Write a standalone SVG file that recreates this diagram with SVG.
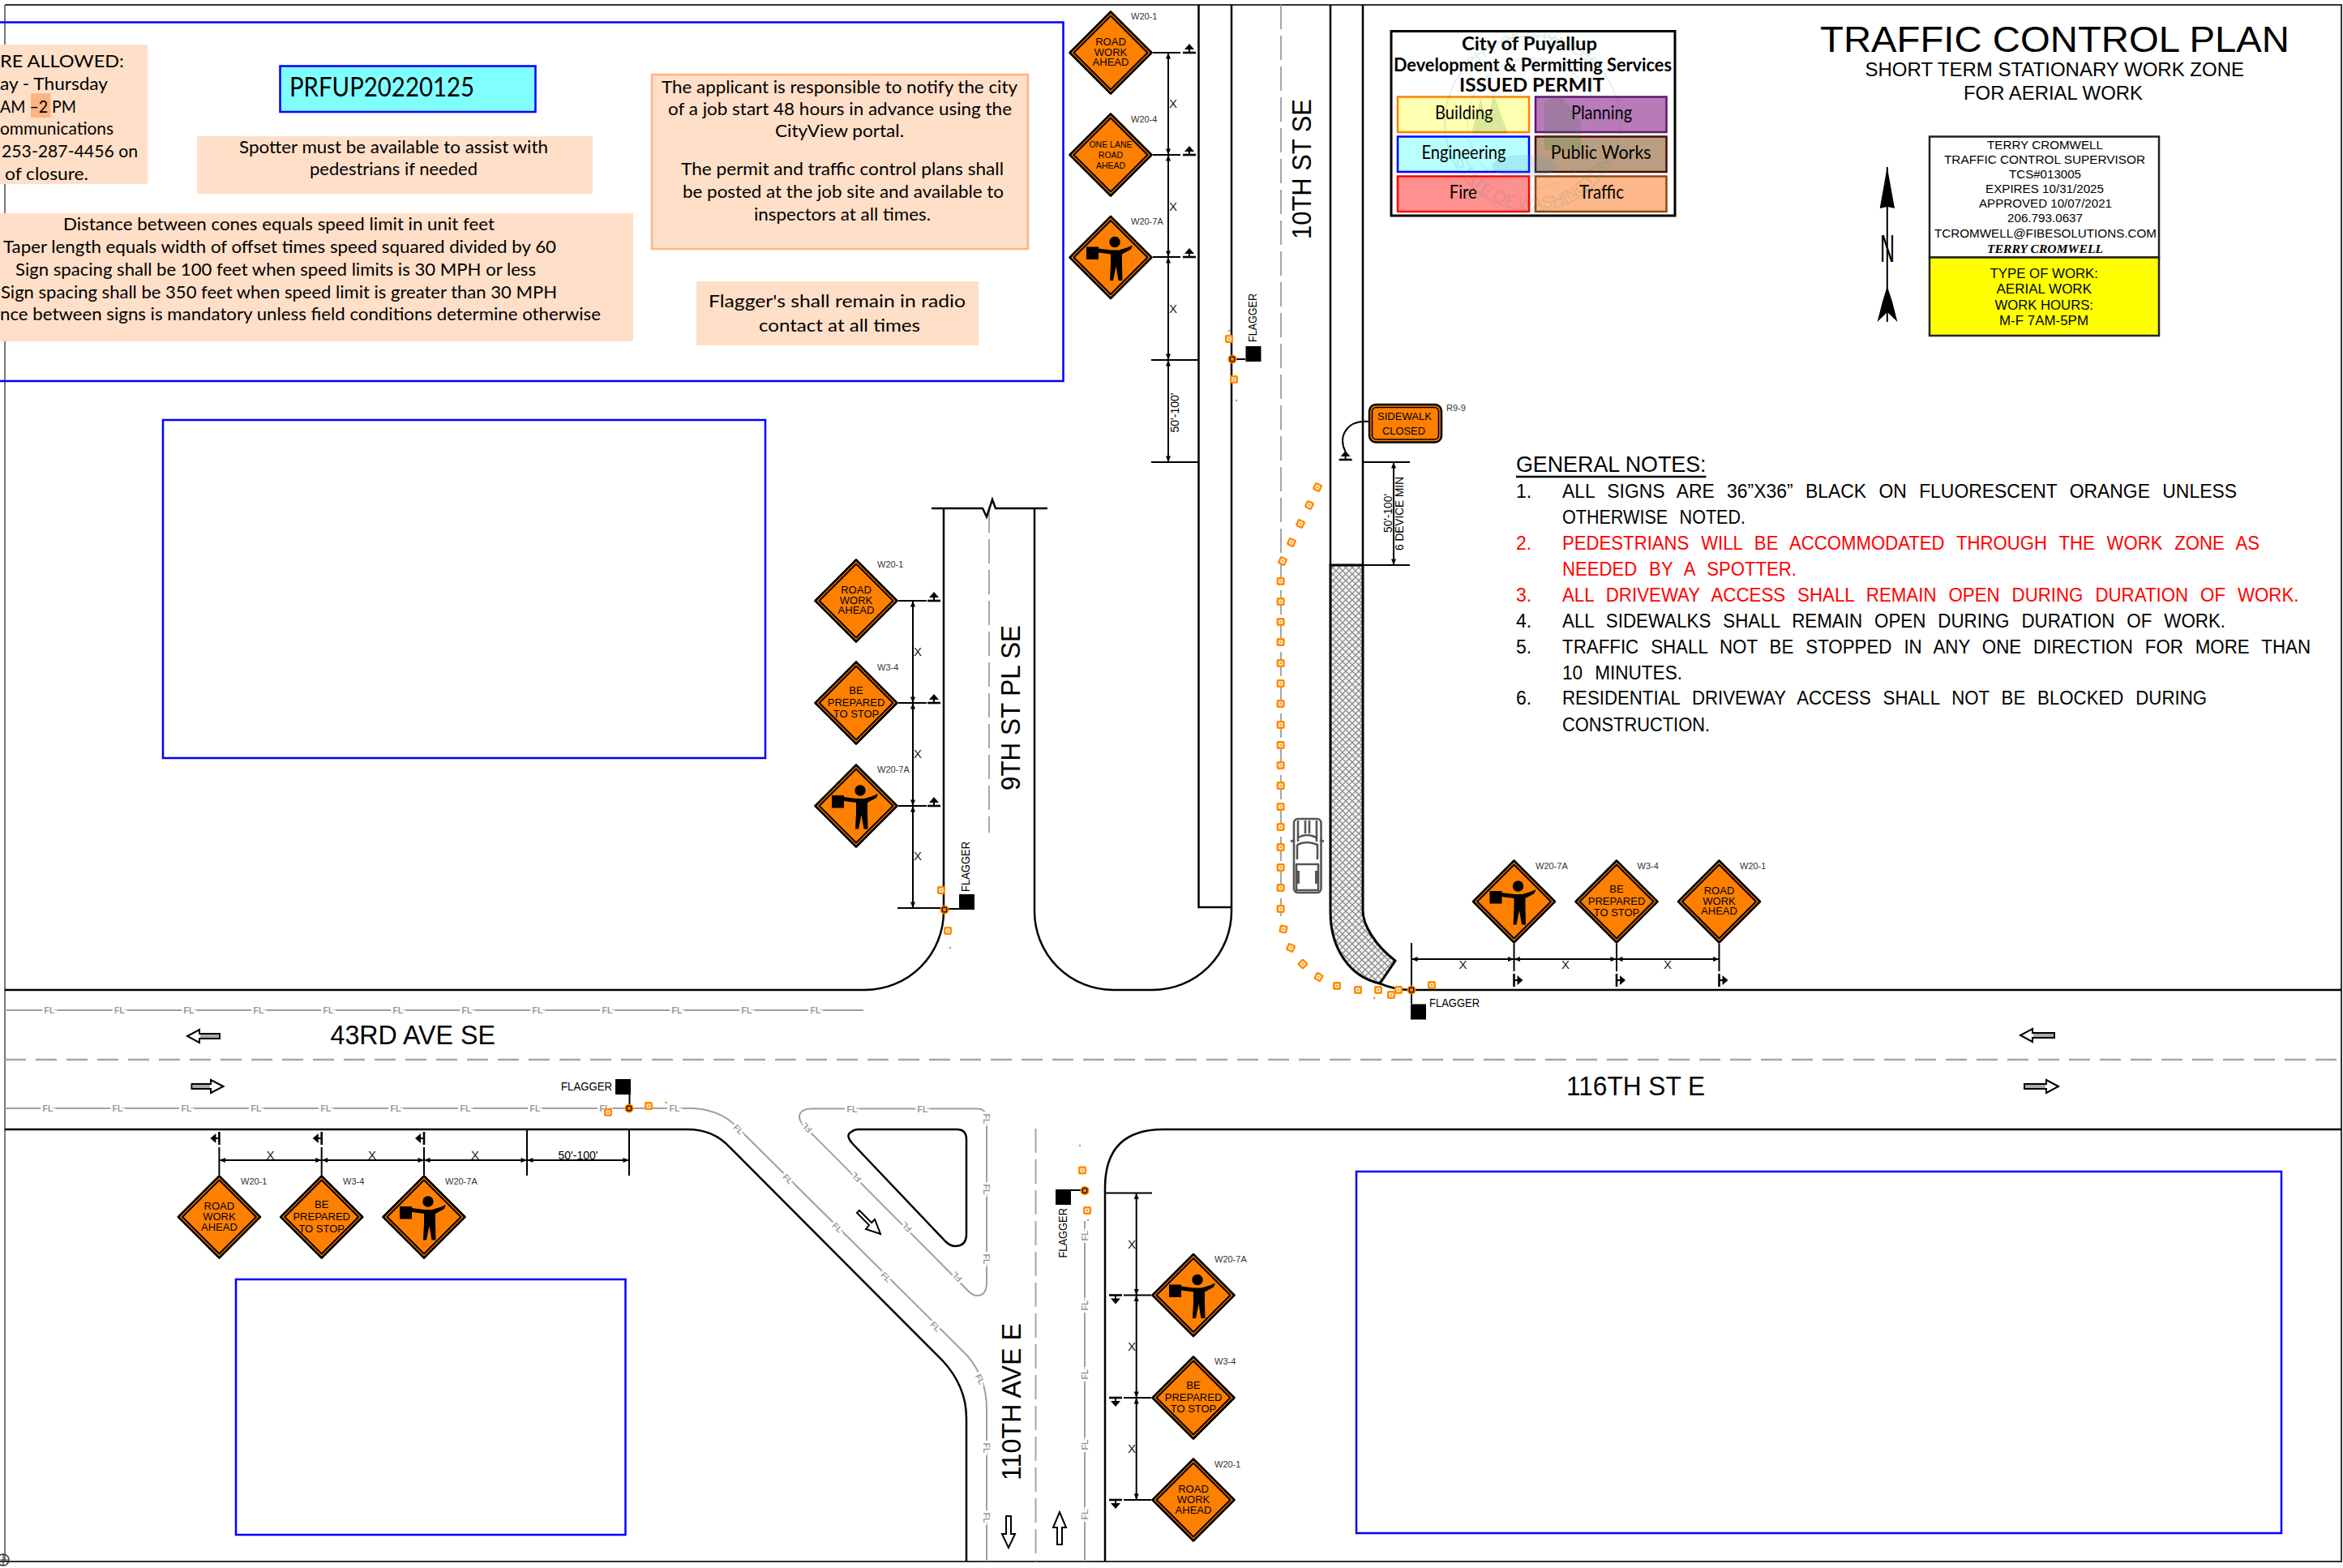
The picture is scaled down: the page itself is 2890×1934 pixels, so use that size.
<svg xmlns="http://www.w3.org/2000/svg" width="2890" height="1934" viewBox="0 0 2890 1934">
<style>
text{font-family:"Liberation Sans",Arial,sans-serif;fill:#000}
.g{font-family:Lato,"Liberation Sans",sans-serif;font-size:22px}
.peach{fill:#FFDFC8}
.curb{fill:none;stroke:#000;stroke-width:2.5}
.thin{fill:none;stroke:#000;stroke-width:2}
.flline{fill:none;stroke:#A0A0A0;stroke-width:2}
.dash{fill:none;stroke:#A6A6A6;stroke-width:2;stroke-dasharray:30 8}
.dashh{fill:none;stroke:#A6A6A6;stroke-width:2.5;stroke-dasharray:26 12}
.fl{font-size:10.5px;fill:#999;stroke:#fff;stroke-width:6;paint-order:stroke;text-anchor:middle;font-weight:bold}
.blue{fill:none;stroke:#0000FF;stroke-width:2.5}
.dim{fill:none;stroke:#000;stroke-width:2;marker-start:url(#da);marker-end:url(#da)}
.st{font-size:13px;text-anchor:middle}
.lbl{font-size:11px;fill:#333}
.x{font-size:15px;text-anchor:middle;fill:#222}
.road{font-size:33px}
.flg{font-size:15.5px}
.note{font-size:23px;word-spacing:9px}
.red{fill:#FF0000}
.lg{font-family:Lato,"Liberation Sans",sans-serif;font-size:23px}
.lgb{font-family:Lato,"Liberation Sans",sans-serif;font-weight:bold;font-size:22px}
.sv{font-size:15px}
.yl{font-size:17px}
.arr{fill:#fff;stroke:#000;stroke-width:2}
.ssh{fill:#aaa}
.tk{fill:none;stroke:#555;stroke-width:2.6}
</style>
<defs>
<marker id="da" viewBox="-9 -4 9 8" markerWidth="9" markerHeight="8" markerUnits="userSpaceOnUse" refX="0" refY="0" orient="auto-start-reverse"><path d="M0,0 L-7.5,-3 L-7.5,3 Z" fill="#000"/></marker>
<pattern id="hatch" width="8" height="8" patternUnits="userSpaceOnUse"><rect width="8" height="8" fill="#F4F4F4"/><path d="M0,0 L8,8 M8,0 L0,8" stroke="#8C8C8C" stroke-width="1.3"/></pattern>
<g id="sign"><polygon points="0,-50.5 50.5,0 0,50.5 -50.5,0" fill="#FF8000" stroke="#000" stroke-width="2.6" stroke-linejoin="round"/><polygon points="0,-45.5 45.5,0 0,45.5 -45.5,0" fill="none" stroke="#000" stroke-width="2" stroke-linejoin="round"/></g>
<g id="man"><circle cx="5" cy="-19" r="6.7"/><path d="M-30,-13 H-15 V-11 L0,-9 H10 L20,-12 L27,-15 L25,-10 L14,-4 L14,8 L14.5,28.5 L9.5,28.5 L6.5,11 L3,28.5 L-1,28.5 L0,8 L0,-4 L-15,-6 V2.5 H-30Z"/></g>
<g id="post"><path d="M-8,0 H8" stroke="#000" stroke-width="2.6"/><path d="M0,0 V-5" stroke="#000" stroke-width="2"/><path d="M-6,-4 H6 L0,-11Z"/></g>
<g id="cone"><rect x="-5" y="-5" width="10" height="10" rx="2" fill="#FF8C00"/><rect x="-2.6" y="-2.6" width="5.2" height="5.2" rx="1" fill="#FFF0E0"/><rect x="-1" y="-1" width="2" height="2" fill="#FF8C00"/></g>
<g id="conek"><circle r="5.5" fill="#FF8000"/><rect x="-2.8" y="-2.8" width="5.6" height="5.6" rx="1.2" fill="none" stroke="#000" stroke-width="1.2"/></g>
<rect id="fs" x="0" y="0" width="19" height="19" fill="#000"/>
<path id="sealb" d="M1784,152 A106,106 0 0 0 1996,152"/>
<path id="sealt" d="M1790,152 A100,100 0 0 1 1990,152"/>
</defs>
<rect width="2890" height="1934" fill="#fff"/>

<g id="frame">
<path d="M6,6 H2888 V1926 H0" fill="none" stroke="#333" stroke-width="2"/>
<path d="M6,6 V1926" fill="none" stroke="#555" stroke-width="1.6"/>
<circle cx="4" cy="1924" r="7" fill="none" stroke="#333" stroke-width="1.5"/><path d="M0,1924 H11 M4,1917 V1931" stroke="#333" stroke-width="1.2"/>
</g>

<g id="roads">
<path class="dash" d="M1580,6 V1130"/>
<path class="dash" d="M1220,627 V1027"/>
<path class="dash" d="M1277.5,1392 V1926"/>
<path class="dashh" d="M6,1307 H2888"/>
<path class="curb" d="M1164,627 V1124 A97,97 0 0 1 1067,1221 H6"/>
<path class="curb" d="M1276,627 V1124 A97,97 0 0 0 1373,1221 H1422 A97,97 0 0 0 1519,1124 V6"/>
<path class="curb" d="M1478.5,6 V1119 H1519"/>
<path class="curb" d="M1641,6 V697"/>
<path class="curb" d="M1681,6 V697"/>
<path class="curb" d="M1149,627 H1212 L1217,637.5 L1224,616 L1228,627 H1292"/>
<path id="walk" d="M1641,697 V1125 C1641,1170 1665,1205 1702,1213 L1721,1185 C1695,1165 1681,1140 1681,1123 V697 Z" fill="url(#hatch)" stroke="#000" stroke-width="3"/>
<path class="curb" d="M1702,1213 Q1720,1221 1741,1221 H2888"/>
<path class="curb" d="M6,1393 H848 Q880,1393 900,1415 L1162.5,1678 Q1192,1710 1192,1749 V1926"/>
<path class="curb" d="M1058,1393 H1180 Q1192,1393 1192,1405 V1522 Q1192,1537 1178,1537 Q1172,1537 1166,1531 L1052,1411 Q1042,1400 1050,1396 Q1054,1393 1058,1393Z"/>
<path class="curb" d="M1363,1926 V1465 Q1363,1393 1435,1393 H2888"/>
<path class="flline" d="M6,1246 H1065"/>
<path class="flline" d="M6,1367 H850 Q885,1367 907,1388 L1193,1672 Q1217,1700 1217,1737 V1926"/>
<path class="flline" d="M1000,1367.5 H1205 Q1217,1367.5 1217,1380 V1582 Q1217,1598 1205,1598 Q1200,1598 1195,1593 L990,1387 Q982,1376 990,1370 Q995,1367.5 1000,1367.5Z"/>
<path class="flline" d="M1338,1506 V1926"/>
<g id="fl-labels">
<text class="fl" x="61" y="1250">FL</text><text class="fl" x="147.5" y="1250">FL</text><text class="fl" x="233" y="1250">FL</text><text class="fl" x="319" y="1250">FL</text><text class="fl" x="405" y="1250">FL</text><text class="fl" x="491" y="1250">FL</text><text class="fl" x="576" y="1250">FL</text><text class="fl" x="663" y="1250">FL</text><text class="fl" x="749" y="1250">FL</text><text class="fl" x="835" y="1250">FL</text><text class="fl" x="921" y="1250">FL</text><text class="fl" x="1006" y="1250">FL</text>
<text class="fl" x="59" y="1371">FL</text><text class="fl" x="145" y="1371">FL</text><text class="fl" x="230" y="1371">FL</text><text class="fl" x="316" y="1371">FL</text><text class="fl" x="402" y="1371">FL</text><text class="fl" x="488" y="1371">FL</text><text class="fl" x="574" y="1371">FL</text><text class="fl" x="660" y="1371">FL</text><text class="fl" x="746" y="1371">FL</text><text class="fl" x="832" y="1371">FL</text>
<text class="fl" transform="translate(911,1393) rotate(45)" y="4">FL</text><text class="fl" transform="translate(972,1454) rotate(45)" y="4">FL</text><text class="fl" transform="translate(1033,1514) rotate(45)" y="4">FL</text><text class="fl" transform="translate(1093,1575) rotate(45)" y="4">FL</text><text class="fl" transform="translate(1154,1636) rotate(45)" y="4">FL</text><text class="fl" transform="translate(1209,1701) rotate(65)" y="4">FL</text>
<text class="fl" transform="translate(1217,1786) rotate(90)" y="4">FL</text><text class="fl" transform="translate(1217,1872) rotate(90)" y="4">FL</text>
<text class="fl" x="1051" y="1371.5">FL</text><text class="fl" x="1138" y="1371.5">FL</text>
<text class="fl" transform="translate(1217,1380) rotate(90)" y="4">FL</text><text class="fl" transform="translate(1217,1467) rotate(90)" y="4">FL</text><text class="fl" transform="translate(1217,1553) rotate(90)" y="4">FL</text>
<text class="fl" transform="translate(995,1391) rotate(225)" y="4">FL</text><text class="fl" transform="translate(1056,1452) rotate(225)" y="4">FL</text><text class="fl" transform="translate(1118,1513.5) rotate(225)" y="4">FL</text><text class="fl" transform="translate(1180,1575) rotate(225)" y="4">FL</text>
<text class="fl" transform="translate(1338,1524) rotate(-90)" y="4">FL</text><text class="fl" transform="translate(1338,1610) rotate(-90)" y="4">FL</text><text class="fl" transform="translate(1338,1695) rotate(-90)" y="4">FL</text><text class="fl" transform="translate(1338,1782) rotate(-90)" y="4">FL</text><text class="fl" transform="translate(1338,1868) rotate(-90)" y="4">FL</text>
</g>
<g id="lane-arrows">
<path class="arr" d="M231,1278 L246,1270 V1275 H271 V1281 H246 V1286Z"/><path class="ssh" d="M247,1276 H270 V1280 H247Z"/>
<path class="arr" d="M275.5,1340 L260,1332 V1337 H236.5 V1343 H260 V1348Z"/><path class="ssh" d="M238,1338 H259 V1342 H238Z"/>
<path class="arr" d="M2492,1277 L2507,1269 V1274 H2534 V1280 H2507 V1285Z"/><path class="ssh" d="M2508,1275 H2533 V1279 H2508Z"/>
<path class="arr" d="M2539,1340 L2524,1332 V1337 H2497 V1343 H2524 V1348Z"/><path class="ssh" d="M2498,1338 H2523 V1342 H2498Z"/>
<path class="arr" d="M1244,1909 L1236,1892 H1241 V1870 H1247 V1892 H1252Z"/>
<path class="arr" d="M1307,1865 L1299,1884 H1304 V1905 H1310 V1884 H1315Z"/>
<path class="arr" d="M1086,1522 L1068,1516 L1072,1511 L1057,1496 L1060,1493 L1075,1508 L1079,1504Z"/>
</g>
<text class="road" x="407.5" y="1288" textLength="203.5" lengthAdjust="spacingAndGlyphs">43RD AVE SE</text>
<text class="road" x="1932" y="1351" textLength="171" lengthAdjust="spacingAndGlyphs">116TH ST E</text>
<text class="road" transform="translate(1258,975) rotate(-90)" textLength="204" lengthAdjust="spacingAndGlyphs">9TH ST PL SE</text>
<text class="road" transform="translate(1617,295) rotate(-90)" textLength="173" lengthAdjust="spacingAndGlyphs">10TH ST SE</text>
<text class="road" transform="translate(1259,1826) rotate(-90)" textLength="194" lengthAdjust="spacingAndGlyphs">110TH AVE E</text>
</g>

<g id="parcels">
<rect class="blue" x="201" y="518" width="743" height="417"/>
<rect class="blue" x="291" y="1578" width="480.5" height="315"/>
<rect class="blue" x="1673" y="1445" width="1141" height="446"/>
</g>

<g id="notes-panel">
<path class="blue" d="M0,27.5 H1311.5 V470 H0" fill="#fff"/>
<g id="note-hours">
<rect class="peach" x="0" y="55" width="182" height="172"/>
<rect x="38" y="115" width="24.5" height="30" fill="#FFB380"/>
<text class="g" x="0" y="83" textLength="153" lengthAdjust="spacingAndGlyphs">RE ALLOWED:</text>
<text class="g" x="0" y="111" textLength="133" lengthAdjust="spacingAndGlyphs">ay - Thursday</text>
<text class="g" x="0" y="139" textLength="94" lengthAdjust="spacingAndGlyphs">AM –2 PM</text>
<text class="g" x="0" y="166" textLength="140" lengthAdjust="spacingAndGlyphs">ommunications</text>
<text class="g" x="2" y="194" textLength="168" lengthAdjust="spacingAndGlyphs">253-287-4456 on</text>
<text class="g" x="6" y="222" textLength="103" lengthAdjust="spacingAndGlyphs">of closure.</text>
</g>
<g id="permit-number">
<rect x="345.5" y="81.5" width="315" height="56.5" fill="#80FFFF" stroke="#0000FF" stroke-width="2.5"/>
<text class="g" x="357" y="119" style="font-size:32px" textLength="228" lengthAdjust="spacingAndGlyphs">PRFUP20220125</text>
</g>
<g id="note-spotter">
<rect class="peach" x="243" y="168" width="488" height="71"/>
<text class="g" x="295" y="189" textLength="381" lengthAdjust="spacingAndGlyphs">Spotter must be available to assist with</text>
<text class="g" x="382" y="216" textLength="207" lengthAdjust="spacingAndGlyphs">pedestrians if needed</text>
</g>
<g id="note-spacing">
<rect class="peach" x="0" y="263" width="781" height="158"/>
<text class="g" x="78" y="284" textLength="532" lengthAdjust="spacingAndGlyphs">Distance between cones equals speed limit in unit feet</text>
<text class="g" x="4" y="312" textLength="682" lengthAdjust="spacingAndGlyphs">Taper length equals width of offset times speed squared divided by 60</text>
<text class="g" x="19" y="340" textLength="642" lengthAdjust="spacingAndGlyphs">Sign spacing shall be 100 feet when speed limits is 30 MPH or less</text>
<text class="g" x="1" y="368" textLength="686" lengthAdjust="spacingAndGlyphs">Sign spacing shall be 350 feet when speed limit is greater than 30 MPH</text>
<text class="g" x="0" y="395" textLength="741" lengthAdjust="spacingAndGlyphs">nce between signs is mandatory unless field conditions determine otherwise</text>
</g>
<g id="note-applicant">
<rect class="peach" x="804" y="92" width="464" height="215" stroke="#FFB380" stroke-width="2.5"/>
<text class="g" x="816" y="115" textLength="439" lengthAdjust="spacingAndGlyphs">The applicant is responsible to notify the city</text>
<text class="g" x="824" y="142" textLength="424" lengthAdjust="spacingAndGlyphs">of a job start 48 hours in advance using the</text>
<text class="g" x="956" y="169" textLength="159" lengthAdjust="spacingAndGlyphs">CityView portal.</text>
<text class="g" x="840" y="216" textLength="398" lengthAdjust="spacingAndGlyphs">The permit and traffic control plans shall</text>
<text class="g" x="842" y="244" textLength="396" lengthAdjust="spacingAndGlyphs">be posted at the job site and available to</text>
<text class="g" x="930" y="272" textLength="218" lengthAdjust="spacingAndGlyphs">inspectors at all times.</text>
</g>
<g id="note-flagger">
<rect class="peach" x="859" y="347" width="348" height="79"/>
<text class="g" x="874" y="379" textLength="317" lengthAdjust="spacingAndGlyphs">Flagger's shall remain in radio</text>
<text class="g" x="936" y="409" textLength="199" lengthAdjust="spacingAndGlyphs">contact at all times</text>
</g>
</g>

<g id="legend">
<rect x="1716" y="38.5" width="350" height="227.5" fill="#fff" stroke="#000" stroke-width="3"/>
<text class="lgb" x="1803" y="62" textLength="167" lengthAdjust="spacingAndGlyphs">City of Puyallup</text>
<text class="lgb" x="1719" y="88" textLength="343" lengthAdjust="spacingAndGlyphs">Development &amp; Permitting Services</text>
<text class="lgb" x="1800" y="113" textLength="179" lengthAdjust="spacingAndGlyphs">ISSUED PERMIT</text>
<rect x="1724" y="119.5" width="162" height="43.5" fill="#FFFFB0" stroke="#FF8000" stroke-width="2.5"/>
<rect x="1894" y="119.5" width="161.5" height="43.5" fill="#B87AB8" stroke="#5A1A6E" stroke-width="2.5"/>
<rect x="1724" y="168.5" width="162" height="43.5" fill="#B8FFFF" stroke="#0000FF" stroke-width="2.5"/>
<rect x="1894" y="168.5" width="161.5" height="43.5" fill="#BB9E7F" stroke="#4A0A0A" stroke-width="2.5"/>
<rect x="1724" y="217.5" width="162" height="43.5" fill="#FF9090" stroke="#FF0000" stroke-width="2.5"/>
<rect x="1894" y="217.5" width="161.5" height="43.5" fill="#FFB88C" stroke="#8A4B10" stroke-width="2.5"/>
<text class="lg" x="1770" y="147" textLength="71.5" lengthAdjust="spacingAndGlyphs">Building</text>
<text class="lg" x="1938" y="147" textLength="75" lengthAdjust="spacingAndGlyphs">Planning</text>
<text class="lg" x="1753.5" y="196" textLength="104" lengthAdjust="spacingAndGlyphs">Engineering</text>
<text class="lg" x="1912.7" y="196" textLength="124" lengthAdjust="spacingAndGlyphs">Public Works</text>
<text class="lg" x="1787.7" y="245" textLength="34" lengthAdjust="spacingAndGlyphs">Fire</text>
<text class="lg" x="1948" y="245" textLength="55" lengthAdjust="spacingAndGlyphs">Traffic</text>
<g id="seal-mark" opacity="0.17">
<circle cx="1890" cy="152" r="108" fill="none" stroke="#3C8C64" stroke-width="1.5"/>
<circle cx="1890" cy="152" r="80" fill="none" stroke="#5AA0D0" stroke-width="1.5"/>
<path d="M1815,165 L1826,122 L1840,165 Z M1832,165 L1842,115 L1860,165 Z M1905,125 L1925,118 L1950,150 L1950,185 L1905,185 Z" fill="#2E7D32"/>
<ellipse cx="1880" cy="205" rx="40" ry="14" fill="#4A90C0"/>
<text style="font-size:20px;fill:#3C8C64" text-anchor="middle"><textPath href="#sealb" startOffset="50%">STATE OF WASHINGTON</textPath></text>
<text style="font-size:18px;fill:#3C8C64" text-anchor="middle"><textPath href="#sealt" startOffset="50%">CITY OF PUYALLUP</textPath></text>
</g>
</g>

<g id="title">
<text x="2245" y="64" style="font-size:45px" textLength="579" lengthAdjust="spacingAndGlyphs">TRAFFIC CONTROL PLAN</text>
<text x="2300.5" y="94" style="font-size:24px" textLength="467.5" lengthAdjust="spacingAndGlyphs">SHORT TERM STATIONARY WORK ZONE</text>
<text x="2422" y="123" style="font-size:24px" textLength="221" lengthAdjust="spacingAndGlyphs">FOR AERIAL WORK</text>
</g>

<g id="north-arrow">
<path d="M2327.8,206 V397" stroke="#000" stroke-width="2"/>
<path d="M2327.8,206 L2337,257 L2328,255 L2318.7,257Z"/>
<path d="M2327.8,353 L2334,372 L2340.4,397 L2328,385 L2315.6,397 L2322,372Z"/>
<text x="2319" y="323" style="font-size:48px" textLength="18" lengthAdjust="spacingAndGlyphs">N</text>
</g>

<g id="supervisor">
<rect x="2380" y="168.5" width="283" height="149" fill="#fff" stroke="#222" stroke-width="2.5"/>
<rect x="2380" y="317.5" width="283" height="96.5" fill="#FFFF00" stroke="#222" stroke-width="2.5"/>
<text class="sv" x="2451" y="184" textLength="143" lengthAdjust="spacingAndGlyphs">TERRY CROMWELL</text>
<text class="sv" x="2398" y="202" textLength="248" lengthAdjust="spacingAndGlyphs">TRAFFIC CONTROL SUPERVISOR</text>
<text class="sv" x="2478" y="220" textLength="89" lengthAdjust="spacingAndGlyphs">TCS#013005</text>
<text class="sv" x="2449" y="238" textLength="146" lengthAdjust="spacingAndGlyphs">EXPIRES 10/31/2025</text>
<text class="sv" x="2441" y="256" textLength="164" lengthAdjust="spacingAndGlyphs">APPROVED 10/07/2021</text>
<text class="sv" x="2476" y="274" textLength="93" lengthAdjust="spacingAndGlyphs">206.793.0637</text>
<text class="sv" x="2386" y="293" textLength="274" lengthAdjust="spacingAndGlyphs">TCROMWELL@FIBESOLUTIONS.COM</text>
<text x="2451" y="312" style="font-family:'Liberation Serif',serif;font-style:italic;font-weight:bold;font-size:15px" textLength="143" lengthAdjust="spacingAndGlyphs">TERRY CROMWELL</text>
<text class="yl" x="2454.5" y="343" textLength="133.5" lengthAdjust="spacingAndGlyphs">TYPE OF WORK:</text>
<text class="yl" x="2462.5" y="362" textLength="117.5" lengthAdjust="spacingAndGlyphs">AERIAL WORK</text>
<text class="yl" x="2460.5" y="382" textLength="121.5" lengthAdjust="spacingAndGlyphs">WORK HOURS:</text>
<text class="yl" x="2466" y="401" textLength="110" lengthAdjust="spacingAndGlyphs">M-F 7AM-5PM</text>
</g>

<g id="general-notes">
<text x="1870" y="582" style="font-size:28px" textLength="234.5" lengthAdjust="spacingAndGlyphs">GENERAL NOTES:</text>
<path d="M1870,588 H2104.5" stroke="#000" stroke-width="2.5"/>
<text class="note" x="1870" y="614">1.</text><text class="note" x="1927" y="614" textLength="832" lengthAdjust="spacingAndGlyphs">ALL SIGNS ARE 36”X36” BLACK ON FLUORESCENT ORANGE UNLESS</text>
<text class="note" x="1927" y="646" textLength="226" lengthAdjust="spacingAndGlyphs">OTHERWISE NOTED.</text>
<text class="note red" x="1870" y="678">2.</text><text class="note red" x="1927" y="678" textLength="860" lengthAdjust="spacingAndGlyphs">PEDESTRIANS WILL BE ACCOMMODATED THROUGH THE WORK ZONE AS</text>
<text class="note red" x="1927" y="710" textLength="289" lengthAdjust="spacingAndGlyphs">NEEDED BY A SPOTTER.</text>
<text class="note red" x="1870" y="742">3.</text><text class="note red" x="1927" y="742" textLength="908.5" lengthAdjust="spacingAndGlyphs">ALL DRIVEWAY ACCESS SHALL REMAIN OPEN DURING DURATION OF WORK.</text>
<text class="note" x="1870" y="774">4.</text><text class="note" x="1927" y="774" textLength="818" lengthAdjust="spacingAndGlyphs">ALL SIDEWALKS SHALL REMAIN OPEN DURING DURATION OF WORK.</text>
<text class="note" x="1870" y="806">5.</text><text class="note" x="1927" y="806" textLength="923" lengthAdjust="spacingAndGlyphs">TRAFFIC SHALL NOT BE STOPPED IN ANY ONE DIRECTION FOR MORE THAN</text>
<text class="note" x="1927" y="838" textLength="148" lengthAdjust="spacingAndGlyphs">10 MINUTES.</text>
<text class="note" x="1870" y="869">6.</text><text class="note" x="1927" y="869" textLength="795" lengthAdjust="spacingAndGlyphs">RESIDENTIAL DRIVEWAY ACCESS SHALL NOT BE BLOCKED DURING</text>
<text class="note" x="1927" y="902" textLength="182" lengthAdjust="spacingAndGlyphs">CONSTRUCTION.</text>
</g>

<g id="truck">
<rect class="tk" x="1596" y="1010" width="33.5" height="91" rx="5"/>
<path class="tk" d="M1592,1038 L1597,1036 M1633,1038 L1628,1036 M1601,1012 V1038 M1624,1012 V1038 M1610,1012 V1028 M1615,1012 V1028 M1600,1034 Q1612,1026 1625,1034 M1600,1042 Q1612,1036 1625,1042 V1060 M1600,1042 V1060 M1598,1066 H1627 M1599,1066 V1098 H1626 V1066"/>
<rect x="1598" y="1074" width="5" height="16" fill="#555"/><rect x="1622" y="1074" width="5" height="16" fill="#555"/>
</g>

<g id="connectors">
<path class="thin" d="M1422,65 H1456 M1422,191 H1456 M1422,317 H1456 M1420,444 H1478 M1420,570 H1478"/>
<path class="dim" d="M1441,65 V191"/><path class="dim" d="M1441,191 V317"/><path class="dim" d="M1441,317 V444"/><path class="dim" d="M1441,444 V570"/>
<path class="thin" d="M1108,741 H1143 M1108,867 H1143 M1108,994 H1143 M1107,1120 H1164"/>
<path class="dim" d="M1126,741 V867"/><path class="dim" d="M1126,867 V994"/><path class="dim" d="M1126,994 V1120"/>
<path class="thin" d="M1741,1163 V1221 M1867.5,1164 V1198 M1994,1164 V1198 M2120.5,1164 V1198"/>
<path class="dim" d="M1741,1183 H1867.5"/><path class="dim" d="M1867.5,1183 H1994"/><path class="dim" d="M1994,1183 H2120.5"/>
<path class="thin" d="M270.4,1415 V1449 M396.7,1415 V1449 M523,1415 V1449 M650,1393 V1450 M776,1393 V1450"/>
<path class="dim" d="M270.4,1431 H396.7"/><path class="dim" d="M396.7,1431 H523"/><path class="dim" d="M523,1431 H650"/><path class="dim" d="M650,1431 H776"/>
<path class="thin" d="M1363,1471.5 H1421 M1386,1597.5 H1420 M1386,1724 H1420 M1386,1850 H1420"/>
<path class="dim" d="M1401.7,1471.5 V1597.5"/><path class="dim" d="M1401.7,1597.5 V1724"/><path class="dim" d="M1401.7,1724 V1850"/>
<path class="thin" d="M1681,570 H1739 M1641,697 H1739"/>
<path class="dim" d="M1719,570 V697"/>
<path class="thin" d="M1688,520 C1660,518 1650,540 1659.6,557"/>
<path class="thin" d="M1165,1121 H1183 M1519,443 H1536 M1741,1221 V1238 M776.5,1350 V1367 M1321,1468 H1338"/>
</g>

<g id="post-markers">
<use href="#post" x="1467" y="65"/><use href="#post" x="1467" y="191"/><use href="#post" x="1467" y="317"/>
<use href="#post" x="1152" y="741"/><use href="#post" x="1152" y="867"/><use href="#post" x="1152" y="994"/>
<use href="#post" transform="translate(1867.5,1209) rotate(90)"/><use href="#post" transform="translate(1994,1209) rotate(90)"/><use href="#post" transform="translate(2120.5,1209) rotate(90)"/>
<use href="#post" transform="translate(270.4,1404) rotate(-90)"/><use href="#post" transform="translate(396.7,1404) rotate(-90)"/><use href="#post" transform="translate(523,1404) rotate(-90)"/>
<use href="#post" transform="translate(1376,1597.5) rotate(180)"/><use href="#post" transform="translate(1376,1724) rotate(180)"/><use href="#post" transform="translate(1376,1850) rotate(180)"/>
<use href="#post" x="1659.6" y="567"/>
</g>

<g id="dim-labels">
<text class="x" x="1447" y="133">X</text><text class="x" x="1447" y="260">X</text><text class="x" x="1447" y="386">X</text>
<text class="x" x="1132" y="809">X</text><text class="x" x="1132" y="935">X</text><text class="x" x="1132" y="1061">X</text>
<text class="x" x="1804.5" y="1195">X</text><text class="x" x="1931" y="1195">X</text><text class="x" x="2057" y="1195">X</text>
<text class="x" x="333.5" y="1430">X</text><text class="x" x="459" y="1430">X</text><text class="x" x="586" y="1430">X</text>
<text class="x" x="1396" y="1540">X</text><text class="x" x="1396" y="1666">X</text><text class="x" x="1396" y="1792">X</text>
<text x="713" y="1430" text-anchor="middle" style="font-size:14px">50'-100'</text>
<text transform="translate(1454,509) rotate(-90)" text-anchor="middle" style="font-size:14px">50'-100'</text>
<text transform="translate(1717,657) rotate(-90)" style="font-size:15px" textLength="48" lengthAdjust="spacingAndGlyphs">50'-100'</text>
<text transform="translate(1731,679) rotate(-90)" style="font-size:15px" textLength="91" lengthAdjust="spacingAndGlyphs">6 DEVICE MIN</text>
</g>

<g id="sign-top-1"><use href="#sign" x="1370" y="65"/><text class="st" x="1370" y="56">ROAD</text><text class="st" x="1370" y="69">WORK</text><text class="st" x="1370" y="81">AHEAD</text><text class="lbl" x="1395" y="24">W20-1</text></g>
<g id="sign-top-2"><use href="#sign" x="1370" y="191"/><text class="st" x="1370" y="182" style="font-size:10.5px">ONE LANE</text><text class="st" x="1370" y="195" style="font-size:10.5px">ROAD</text><text class="st" x="1370" y="208" style="font-size:10.5px">AHEAD</text><text class="lbl" x="1395" y="151">W20-4</text></g>
<g id="sign-top-3"><use href="#sign" x="1370" y="317.5"/><use href="#man" x="1370" y="317.5"/><text class="lbl" x="1395" y="277">W20-7A</text></g>

<g id="sign-9th-1"><use href="#sign" x="1056" y="741"/><text class="st" x="1056" y="732">ROAD</text><text class="st" x="1056" y="745">WORK</text><text class="st" x="1056" y="757">AHEAD</text><text class="lbl" x="1082" y="700">W20-1</text></g>
<g id="sign-9th-2"><use href="#sign" x="1056" y="867"/><text class="st" x="1056" y="856">BE</text><text class="st" x="1056" y="871">PREPARED</text><text class="st" x="1056" y="885">TO STOP</text><text class="lbl" x="1082" y="827">W3-4</text></g>
<g id="sign-9th-3"><use href="#sign" x="1056" y="994"/><use href="#man" x="1056" y="994"/><text class="lbl" x="1082" y="953">W20-7A</text></g>

<g id="sign-116-1"><use href="#sign" x="1867.5" y="1112"/><use href="#man" x="1867.5" y="1112"/><text class="lbl" x="1894" y="1072">W20-7A</text></g>
<g id="sign-116-2"><use href="#sign" x="1994" y="1112"/><text class="st" x="1994" y="1101">BE</text><text class="st" x="1994" y="1116">PREPARED</text><text class="st" x="1994" y="1130">TO STOP</text><text class="lbl" x="2019.5" y="1072">W3-4</text></g>
<g id="sign-116-3"><use href="#sign" x="2120.5" y="1112"/><text class="st" x="2120.5" y="1103">ROAD</text><text class="st" x="2120.5" y="1116">WORK</text><text class="st" x="2120.5" y="1128">AHEAD</text><text class="lbl" x="2146" y="1072">W20-1</text></g>

<g id="sign-43-1"><use href="#sign" x="270.4" y="1501"/><text class="st" x="270.4" y="1492">ROAD</text><text class="st" x="270.4" y="1505">WORK</text><text class="st" x="270.4" y="1518">AHEAD</text><text class="lbl" x="297" y="1461">W20-1</text></g>
<g id="sign-43-2"><use href="#sign" x="396.7" y="1501"/><text class="st" x="396.7" y="1490">BE</text><text class="st" x="396.7" y="1505">PREPARED</text><text class="st" x="396.7" y="1520">TO STOP</text><text class="lbl" x="423" y="1461">W3-4</text></g>
<g id="sign-43-3"><use href="#sign" x="523" y="1501"/><use href="#man" x="523" y="1501"/><text class="lbl" x="549" y="1461">W20-7A</text></g>

<g id="sign-110-1"><use href="#sign" x="1472" y="1597.5"/><use href="#man" x="1472" y="1597.5"/><text class="lbl" x="1498" y="1557">W20-7A</text></g>
<g id="sign-110-2"><use href="#sign" x="1472" y="1724"/><text class="st" x="1472" y="1713">BE</text><text class="st" x="1472" y="1728">PREPARED</text><text class="st" x="1472" y="1742">TO STOP</text><text class="lbl" x="1498" y="1683">W3-4</text></g>
<g id="sign-110-3"><use href="#sign" x="1472" y="1850"/><text class="st" x="1472" y="1841">ROAD</text><text class="st" x="1472" y="1854">WORK</text><text class="st" x="1472" y="1867">AHEAD</text><text class="lbl" x="1498" y="1810">W20-1</text></g>

<g id="sign-sidewalk">
<rect x="1689" y="499" width="89" height="46.5" rx="8" fill="#FF8000" stroke="#000" stroke-width="2.5"/>
<rect x="1692.5" y="502.5" width="82" height="39.5" rx="5" fill="none" stroke="#000" stroke-width="1.6"/>
<text x="1699" y="518" style="font-size:13.5px" textLength="67" lengthAdjust="spacingAndGlyphs">SIDEWALK</text>
<text x="1705" y="536" style="font-size:13.5px" textLength="53" lengthAdjust="spacingAndGlyphs">CLOSED</text>
<text class="lbl" x="1784" y="507">R9-9</text>
</g>

<g id="flaggers">
<use href="#fs" x="1183" y="1103"/><text class="flg" transform="translate(1196,1100) rotate(-90)" textLength="62" lengthAdjust="spacingAndGlyphs">FLAGGER</text>
<use href="#fs" x="1536.5" y="427"/><text class="flg" transform="translate(1550,422) rotate(-90)" textLength="60" lengthAdjust="spacingAndGlyphs">FLAGGER</text>
<use href="#fs" x="1740" y="1238.5"/><text class="flg" x="1763" y="1242" textLength="62" lengthAdjust="spacingAndGlyphs">FLAGGER</text>
<use href="#fs" x="759" y="1331"/><text class="flg" x="692" y="1345" textLength="63" lengthAdjust="spacingAndGlyphs">FLAGGER</text>
<use href="#fs" x="1302" y="1467"/><text class="flg" transform="translate(1316,1551.5) rotate(-90)" textLength="61.5" lengthAdjust="spacingAndGlyphs">FLAGGER</text>
</g>

<g id="cones">
<use href="#conek" x="1165" y="1122"/><use href="#cone" x="1161" y="1098"/><use href="#cone" x="1169" y="1148"/><circle cx="1172" cy="1169" r="1.2" fill="#FF8000"/>
<use href="#conek" x="1520" y="443"/><use href="#cone" x="1516" y="418"/><use href="#cone" x="1522" y="468"/><circle cx="1516" cy="408" r="1.2" fill="#FF8000"/><circle cx="1525" cy="494" r="1.2" fill="#FF8000"/>
<use href="#conek" x="776" y="1367"/><use href="#cone" x="750" y="1372"/><use href="#cone" x="800" y="1364"/><circle cx="821.5" cy="1360" r="1.2" fill="#FF8000"/>
<use href="#conek" x="1338" y="1468.5"/><use href="#cone" x="1335" y="1443.5"/><use href="#cone" x="1341" y="1493"/><circle cx="1332" cy="1413" r="1.2" fill="#FF8000"/><circle cx="1342" cy="1505" r="1.2" fill="#FF8000"/>
<use href="#conek" x="1741" y="1221"/><use href="#cone" x="1766" y="1215"/><use href="#cone" x="1725" y="1221"/><use href="#cone" x="1716" y="1227"/><use href="#cone" x="1700" y="1221"/><use href="#cone" x="1675" y="1221"/><use href="#cone" x="1649" y="1216"/><use href="#cone" transform="translate(1626.5,1205) rotate(30)"/><use href="#cone" transform="translate(1607,1189) rotate(45)"/><use href="#cone" transform="translate(1592,1169) rotate(25)"/><use href="#cone" transform="translate(1583,1146) rotate(12)"/>
<circle cx="1695" cy="1231" r="1.2" fill="#FF8000"/>
<use href="#cone" x="1579.6" y="1121"/><use href="#cone" x="1579.6" y="1095"/><use href="#cone" x="1579.6" y="1070"/><use href="#cone" x="1579.6" y="1045"/><use href="#cone" x="1579.6" y="1020"/><use href="#cone" x="1579.6" y="995"/><use href="#cone" x="1579.6" y="969"/><use href="#cone" x="1579.6" y="944"/><use href="#cone" x="1579.6" y="919"/><use href="#cone" x="1579.6" y="894"/><use href="#cone" x="1579.6" y="868"/><use href="#cone" x="1579.6" y="843"/><use href="#cone" x="1579.6" y="818"/><use href="#cone" x="1579.6" y="792"/><use href="#cone" x="1579.6" y="767"/><use href="#cone" x="1579.6" y="742"/><use href="#cone" x="1579.6" y="717"/>
<use href="#cone" transform="translate(1582,692) rotate(25)"/><use href="#cone" transform="translate(1593,669) rotate(25)"/><use href="#cone" transform="translate(1604,646) rotate(25)"/><use href="#cone" transform="translate(1615,623) rotate(25)"/><use href="#cone" transform="translate(1625,601) rotate(25)"/>
</g>
</svg>
